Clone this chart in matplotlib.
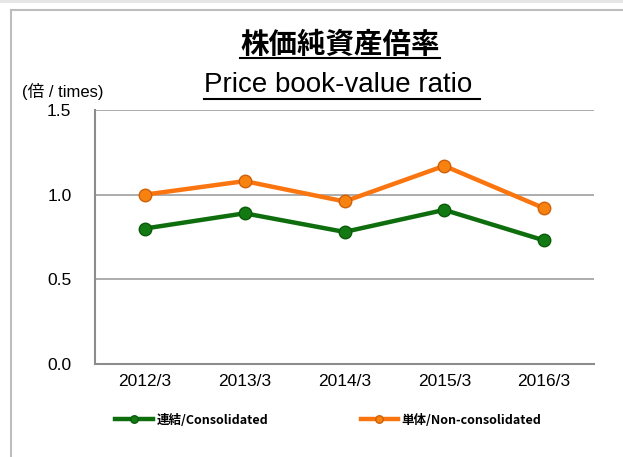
import matplotlib
matplotlib.use("Agg")
from matplotlib import pyplot as plt
from matplotlib.lines import Line2D
from matplotlib.patches import Rectangle

periods = ["2012/3", "2013/3", "2014/3", "2015/3", "2016/3"]
consolidated = [0.80, 0.89, 0.78, 0.91, 0.73]
non_consolidated = [1.00, 1.08, 0.96, 1.17, 0.92]
series_labels = ["連結/Consolidated", "単体/Non-consolidated"]
yticks = [0.0, 0.5, 1.0, 1.5]

plt.rcParams['font.family'] = ['Liberation Sans', 'Noto Sans CJK JP', 'DejaVu Sans']

W, H = 623, 457
fig = plt.figure(figsize=(W / 100, H / 100), dpi=100)

# outer frame
fig.patches.append(Rectangle((0, 1 - 3 / H), 1, 3 / H, transform=fig.transFigure,
                             color="#e6e6e6", lw=0))
fig.lines.append(Line2D([11 / W, 11 / W], [0, 1 - 10 / H], transform=fig.transFigure,
                        color="#bdbdbd", lw=1.5))
fig.lines.append(Line2D([11 / W, 1], [1 - 10 / H, 1 - 10 / H], transform=fig.transFigure,
                        color="#bdbdbd", lw=1.5))

ax = fig.add_axes([95 / W, 93 / H, 499 / W, 254 / H])
x = range(len(periods))
ax.plot(x, consolidated, color="#0e6e0e", lw=3.2, marker="o", ms=9,
        mfc="#137a13", mec="#0a5a0a", mew=1, label=series_labels[0], zorder=3)
ax.plot(x, non_consolidated, color="#fa7510", lw=3.2, marker="o", ms=9,
        mfc="#f7820f", mec="#d0600a", mew=1, label=series_labels[1], zorder=3)

ax.set_xlim(-0.5, len(periods) - 0.5)
ax.set_ylim(0, 1.5)
ax.set_yticks(yticks)
ax.set_yticklabels([f"{v:.1f}" for v in yticks])
ax.set_xticks(list(x))
ax.set_xticklabels(periods)
ax.tick_params(length=0, labelsize=12.5, pad=7)
ax.tick_params(axis="y", pad=17)
ax.grid(axis="y", color="#a6a6a6", lw=1.3)
ax.set_axisbelow(True)
for side in ["top", "right"]:
    ax.spines[side].set_visible(False)
for side in ["left", "bottom"]:
    ax.spines[side].set_color("#8c8c8c")
    ax.spines[side].set_linewidth(1.5)

# titles with underline
t1 = fig.text(340 / W, 1 - 45 / H, "株価純資産倍率", ha="center", va="center",
              fontsize=20.5, fontweight="bold", family="Noto Sans CJK JP")
t2 = fig.text(338 / W, 1 - 92 / H, "Price book-value ratio", ha="center", va="baseline",
              fontsize=20)
fig.text(22 / W, 1 - 91 / H, "(倍 / times)", ha="left", va="center", fontsize=12)

fig.canvas.draw()
r = fig.canvas.get_renderer()
inv = fig.transFigure.inverted()
for t, y_px, extra in ((t1, 58, 0), (t2, 99, 8)):
    bb = t.get_window_extent(r)
    x0, x1 = inv.transform([(bb.x0, 0), (bb.x1 + extra, 0)])[:, 0]
    fig.lines.append(Line2D([x0, x1], [1 - y_px / H, 1 - y_px / H],
                            transform=fig.transFigure, color="black", lw=1.5))

fig.legend(loc="center", bbox_to_anchor=(0.527, 1 - 420 / H), ncol=2, frameon=False,
           columnspacing=7.4, handlelength=3, handletextpad=0.3,
           prop={"weight": "bold", "size": 9, "family": "Noto Sans CJK JP"},
           markerscale=0.6)

fig.savefig("out.png", dpi=100)
